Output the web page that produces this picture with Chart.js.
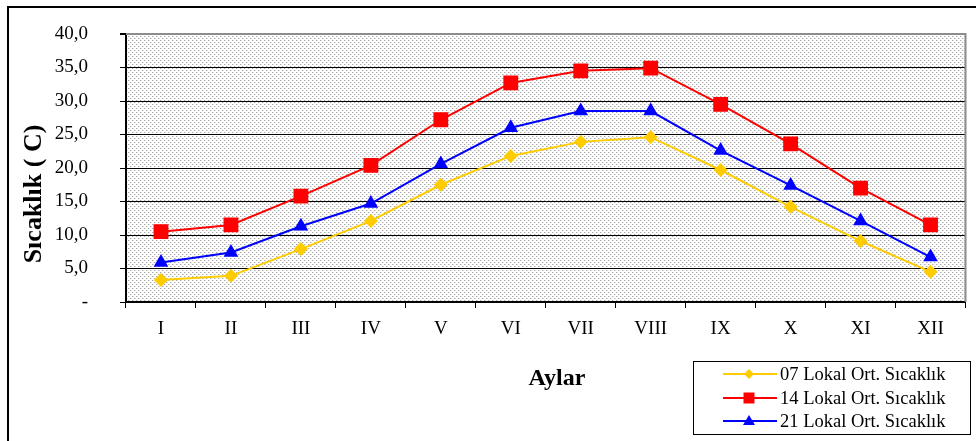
<!DOCTYPE html>
<html>
<head>
<meta charset="utf-8">
<script src="https://cdn.jsdelivr.net/npm/chart.js@4/dist/chart.umd.min.js"></script>
<style>
  html, body { margin: 0; padding: 0; background: #ffffff; }
  #wrap { width: 976px; height: 441px; position: relative; }
</style>
</head>
<body>
<div id="wrap"><canvas id="c" width="976" height="441"></canvas></div>
<script>
// Monthly local mean temperatures at 07, 14 and 21 o'clock
const months = ['I', 'II', 'III', 'IV', 'V', 'VI', 'VII', 'VIII', 'IX', 'X', 'XI', 'XII'];
const temp07 = [3.3, 3.9, 7.9, 12.1, 17.5, 21.8, 23.9, 24.6, 19.7, 14.2, 9.1, 4.5];
const temp14 = [10.5, 11.5, 15.8, 20.4, 27.2, 32.7, 34.5, 34.9, 29.5, 23.6, 17.0, 11.5];
const temp21 = [5.9, 7.4, 11.3, 14.7, 20.6, 26.0, 28.5, 28.5, 22.6, 17.4, 12.1, 6.7];
const seriesNames = ['07 Lokal Ort. Sıcaklık', '14 Lokal Ort. Sıcaklık', '21 Lokal Ort. Sıcaklık'];
const seriesColors = ['#FFCC00', '#FF0000', '#0000FF'];
const seriesMarkers = ['rectRot', 'rect', 'triangle'];
const yTitle = 'Sıcaklık ( C)';
const xTitle = 'Aylar';

const SERIF = "'Times New Roman', 'Liberation Serif', serif";
Chart.defaults.font.family = SERIF;
Chart.defaults.color = '#000000';

// Dotted fill for the plot area
function dotPattern(ctx) {
  const t = document.createElement('canvas');
  t.width = 4; t.height = 4;
  const g = t.getContext('2d');
  g.fillStyle = '#ffffff';
  g.fillRect(0, 0, 4, 4);
  g.fillStyle = '#a8a8a8';
  g.fillRect(0, 0, 1, 1);
  g.fillRect(2, 2, 1, 1);
  g.fillStyle = '#dcdcdc';
  g.fillRect(1, 0, 1, 1);
  g.fillRect(3, 2, 1, 1);
  return ctx.createPattern(t, 'repeat');
}

function drawMarker(ctx, style, x, y, r, color) {
  ctx.save();
  ctx.fillStyle = color;
  ctx.beginPath();
  if (style === 'rect') {
    ctx.rect(x - r, y - r, 2 * r, 2 * r);
  } else if (style === 'rectRot') {
    ctx.moveTo(x, y - r); ctx.lineTo(x + r, y); ctx.lineTo(x, y + r); ctx.lineTo(x - r, y); ctx.closePath();
  } else {
    const h = r * 1.7;
    ctx.moveTo(x, y - h * 0.6); ctx.lineTo(x + r, y + h * 0.4); ctx.lineTo(x - r, y + h * 0.4); ctx.closePath();
  }
  ctx.fill();
  ctx.restore();
}

const framePlugin = {
  id: 'frame',
  beforeDraw(chart) {
    const { ctx, chartArea: a } = chart;
    ctx.save();
    ctx.fillStyle = '#ffffff';
    ctx.fillRect(0, 0, chart.width, chart.height);
    ctx.fillStyle = dotPattern(ctx);
    ctx.fillRect(a.left, a.top, a.right - a.left, a.bottom - a.top);
    // outer frame
    ctx.strokeStyle = '#000000';
    ctx.lineWidth = 2;
    ctx.beginPath();
    ctx.moveTo(8, chart.height);
    ctx.lineTo(8, 7);
    ctx.lineTo(chart.width, 7);
    ctx.stroke();
    ctx.restore();
  },
  beforeDatasetsDraw(chart) {
    const { ctx, chartArea: a } = chart;
    ctx.save();
    ctx.strokeStyle = '#8c8c8c';
    ctx.lineWidth = 2;
    ctx.beginPath();
    ctx.moveTo(a.left, a.top);
    ctx.lineTo(a.right, a.top);
    ctx.lineTo(a.right, a.bottom);
    ctx.stroke();
    ctx.restore();
  },
  afterDraw(chart) {
    const { ctx } = chart;
    ctx.save();
    // axis titles
    ctx.fillStyle = '#000000';
    ctx.font = 'bold 24px ' + SERIF;
    ctx.textAlign = 'center';
    ctx.textBaseline = 'middle';
    ctx.fillText(xTitle, 557, 379);
    ctx.save();
    ctx.font = 'bold 26px ' + SERIF;
    ctx.translate(34, 194);
    ctx.rotate(-Math.PI / 2);
    ctx.fillText(yTitle, 0, 0);
    ctx.restore();

    // legend box
    const bx = 693, by = 361, bw = 277, bh = 73;
    ctx.strokeStyle = '#000000';
    ctx.lineWidth = 1;
    ctx.strokeRect(bx + 0.5, by + 0.5, bw, bh);
    ctx.font = '18.5px ' + SERIF;
    ctx.textAlign = 'left';
    ctx.textBaseline = 'middle';
    const rows = [374, 398, 421];
    const sizes = [5, 5.5, 6];
    chart.data.datasets.forEach((ds, i) => {
      const y = rows[i];
      ctx.strokeStyle = ds.borderColor;
      ctx.lineWidth = 2;
      ctx.beginPath();
      ctx.moveTo(723, y);
      ctx.lineTo(777, y);
      ctx.stroke();
      drawMarker(ctx, seriesMarkers[i], 749, y, sizes[i], ds.borderColor);
      ctx.fillStyle = '#000000';
      ctx.fillText(ds.label, 780, y + 1);
    });
    ctx.restore();
  }
};

const datasets = [temp07, temp14, temp21].map((vals, i) => ({
  label: seriesNames[i],
  data: vals,
  borderColor: seriesColors[i],
  backgroundColor: seriesColors[i],
  borderWidth: 2,
  pointStyle: seriesMarkers[i],
  pointRadius: [7, 10.5, 8.5][i],
  pointHoverRadius: [7, 10.5, 8.5][i],
  pointBorderWidth: 0,
  tension: 0
}));

new Chart(document.getElementById('c'), {
  type: 'line',
  data: { labels: months, datasets },
  options: {
    responsive: false,
    animation: false,
    devicePixelRatio: 1,
    layout: { padding: { left: 0, top: 34, right: 10, bottom: 0 } },
    plugins: { legend: { display: false }, tooltip: { enabled: false } },
    scales: {
      x: {
        type: 'category',
        offset: true,
        afterFit(scale) {
          scale.height = 139;
          scale.paddingLeft = 0; scale.paddingRight = 0;
        },
        grid: {
          offset: true,
          drawOnChartArea: false,
          drawTicks: true,
          tickLength: 6,
          color: '#000000',
          lineWidth: 1
        },
        border: { display: true, color: '#000000', width: 2 },
        ticks: {
          padding: 10,
          maxRotation: 0,
          autoSkip: false,
          font: { size: 19, family: SERIF },
          color: '#000000'
        }
      },
      y: {
        min: 0,
        max: 40,
        afterFit(scale) {
          scale.width = 126;
          scale.paddingTop = 0; scale.paddingBottom = 0;
        },
        grid: {
          drawTicks: true,
          tickLength: 6,
          color: (c) => (c.tick && c.tick.value === 40 ? '#8c8c8c' : '#000000'),
          tickColor: '#000000',
          lineWidth: (c) => (c.tick && c.tick.value === 40 ? 2 : 1)
        },
        border: { display: true, color: '#000000', width: 2 },
        ticks: {
          stepSize: 5,
          padding: 32,
          font: { size: 19, family: SERIF },
          color: '#000000',
          callback: (v) => (v === 0 ? '-' : v.toFixed(1).replace('.', ','))
        }
      }
    }
  },
  plugins: [framePlugin]
});
</script>
</body>
</html>
